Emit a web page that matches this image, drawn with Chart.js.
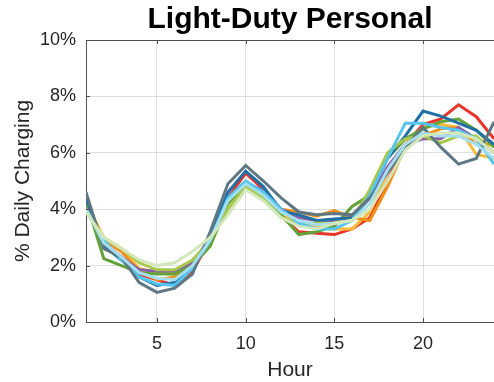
<!DOCTYPE html>
<html>
<head>
<meta charset="utf-8">
<script src="https://cdn.jsdelivr.net/npm/chart.js@4/dist/chart.umd.min.js"></script>
<style>
  html, body { margin: 0; padding: 0; background: #fff; }
  #wrap { width: 494px; height: 382px; }
</style>
</head>
<body>
<div id="wrap"><canvas id="chart" width="494" height="382"></canvas></div>
<script>
// hourly share of daily charging (%), one profile per run
const HOURS = Array.from({ length: 24 }, (_, i) => i + 1);
const X_TICKS = [5, 10, 15, 20];
const Y_TICKS = [0, 2, 4, 6, 8, 10];

const paleGreen   = [3.9, 3.0, 2.6, 2.2, 2.0, 2.1, 2.5, 3.0, 3.8, 4.7, 4.3, 3.7, 3.4, 3.3, 3.5, 3.6, 4.0, 5.0, 6.1, 6.6, 6.7, 6.7, 6.5, 6.0];
const lightCyan   = [4.0, 2.8, 2.3, 1.75, 1.55, 1.5, 2.0, 2.9, 4.3, 4.9, 4.5, 3.9, 3.6, 3.45, 3.5, 3.6, 4.2, 5.4, 6.3, 6.7, 6.6, 6.6, 6.3, 5.8];
const slate       = [4.6, 2.6, 2.3, 1.4, 1.05, 1.2, 1.7, 3.2, 4.9, 5.55, 5.0, 4.4, 3.9, 3.8, 3.85, 3.8, 4.4, 5.3, 6.2, 6.9, 6.2, 5.6, 5.8, 7.1];
const lightBlue   = [4.0, 2.9, 2.2, 1.6, 1.35, 1.3, 1.9, 2.9, 4.4, 5.0, 4.6, 4.0, 3.5, 3.3, 3.3, 3.6, 4.5, 5.8, 7.05, 7.05, 6.9, 6.8, 6.5, 5.6];
const yellowGreen = [4.0, 3.0, 2.6, 2.1, 1.85, 1.85, 2.2, 2.9, 4.0, 4.8, 4.4, 3.7, 3.5, 3.5, 3.5, 3.6, 4.7, 6.0, 6.5, 6.6, 6.35, 6.6, 6.6, 6.0];
const darkBlue    = [4.4, 2.7, 2.2, 1.6, 1.3, 1.4, 1.9, 3.0, 4.6, 5.35, 4.8, 3.95, 3.8, 3.6, 3.65, 3.7, 4.5, 5.8, 6.6, 7.48, 7.3, 7.05, 6.8, 6.3];
const green       = [4.3, 2.25, 2.0, 1.75, 1.7, 1.7, 2.0, 2.7, 4.2, 4.9, 4.4, 3.8, 3.1, 3.2, 3.4, 4.1, 4.5, 5.8, 6.5, 6.85, 7.1, 7.2, 6.8, 6.2];
const purple      = [4.1, 2.8, 2.3, 1.85, 1.8, 1.8, 2.1, 2.9, 4.4, 4.9, 4.7, 4.0, 3.7, 3.6, 3.6, 3.7, 4.4, 5.5, 6.3, 6.5, 6.5, 6.9, 6.5, 6.0];
const orange      = [4.3, 2.9, 2.5, 1.8, 1.5, 1.6, 2.0, 2.7, 4.3, 4.9, 4.6, 4.0, 3.9, 3.75, 3.95, 3.7, 3.6, 4.8, 6.2, 6.6, 6.85, 6.9, 6.3, 6.3];
const yellow      = [4.2, 3.0, 2.6, 1.9, 1.75, 1.7, 2.0, 2.8, 4.2, 4.8, 4.5, 3.8, 3.6, 3.4, 3.3, 3.3, 3.9, 5.3, 6.3, 6.9, 7.0, 6.9, 5.95, 5.8];
const red         = [4.2, 2.8, 2.3, 1.7, 1.5, 1.3, 1.8, 2.9, 4.4, 5.28, 4.7, 3.75, 3.2, 3.15, 3.1, 3.3, 3.7, 5.0, 6.3, 7.0, 7.2, 7.7, 7.28, 6.5];

const SERIES = [
  { data: paleGreen,   color: '#d2e8ba' },
  { data: lightCyan,   color: '#a3dff0' },
  { data: slate,       color: '#5f7783' },
  { data: lightBlue,   color: '#55c4ee' },
  { data: yellowGreen, color: '#a8c84a' },
  { data: darkBlue,    color: '#2070a5' },
  { data: green,       color: '#63a33a' },
  { data: purple,      color: '#8b5fa8' },
  { data: orange,      color: '#f39019' },
  { data: yellow,      color: '#f9bb38' },
  { data: red,         color: '#e8342a' }
];

const FONT = 'Liberation Sans, Arial, Helvetica, sans-serif';
const INK = '#262626';
const AXIS = '#4d4d4d';

// box outline on top plus inward tick marks
const boxPlugin = {
  id: 'box',
  afterDraw(chart) {
    const { ctx, chartArea: a, scales: { x, y } } = chart;
    ctx.save();
    ctx.strokeStyle = AXIS;
    ctx.lineWidth = 1;
    ctx.beginPath();
    ctx.moveTo(a.left, a.top + 0.5);
    ctx.lineTo(a.right, a.top + 0.5);
    X_TICKS.forEach(v => {
      const px = Math.round(x.getPixelForValue(v)) + 0.5;
      ctx.moveTo(px, a.bottom);
      ctx.lineTo(px, a.bottom - 4);
      ctx.moveTo(px, a.top);
      ctx.lineTo(px, a.top + 4);
    });
    Y_TICKS.forEach(v => {
      const py = Math.round(y.getPixelForValue(v)) + 0.5;
      ctx.moveTo(a.left, py);
      ctx.lineTo(a.left + 4, py);
    });
    ctx.stroke();
    ctx.restore();
  }
};

new Chart(document.getElementById('chart'), {
  type: 'line',
  data: {
    labels: HOURS,
    datasets: SERIES.map(s => ({
      data: s.data.map((v, i) => ({ x: HOURS[i], y: v })),
      borderColor: s.color,
      backgroundColor: s.color,
      borderWidth: 3,
      pointRadius: 0,
      tension: 0,
      fill: false
    }))
  },
  options: {
    responsive: false,
    animation: false,
    layout: { padding: { top: 0, right: 0, left: 0, bottom: 0 } },
    plugins: {
      legend: { display: false },
      tooltip: { enabled: false },
      title: {
        display: true,
        text: 'Light-Duty Personal',
        fullSize: false,
        color: '#000',
        font: { family: FONT, size: 30, weight: 'bold', lineHeight: 1.2 },
        padding: { top: 2, bottom: 2 }
      }
    },
    scales: {
      x: {
        type: 'linear',
        min: 1,
        max: 24,
        afterFit(scale) { scale.height = 60; },
        afterBuildTicks(scale) { scale.ticks = X_TICKS.map(v => ({ value: v })); },
        grid: { color: 'rgba(0,0,0,0.12)', drawTicks: false },
        border: { color: AXIS, width: 1 },
        ticks: {
          color: INK,
          padding: 11,
          font: { family: FONT, size: 18 },
          callback: v => String(v)
        },
        title: {
          display: true,
          text: 'Hour',
          color: INK,
          font: { family: FONT, size: 21, lineHeight: 1.15 },
          padding: { top: 0, bottom: 0 }
        }
      },
      y: {
        min: 0,
        max: 10,
        afterFit(scale) { scale.width = 86; },
        afterBuildTicks(scale) { scale.ticks = Y_TICKS.map(v => ({ value: v })); },
        grid: { color: 'rgba(0,0,0,0.12)', drawTicks: false },
        border: { color: AXIS, width: 1 },
        ticks: {
          color: INK,
          padding: 10,
          font: { family: FONT, size: 18 },
          callback: v => v + '%'
        },
        title: {
          display: true,
          text: '% Daily Charging',
          color: INK,
          font: { family: FONT, size: 21, lineHeight: 1.15 },
          padding: { top: 11, bottom: 0 }
        }
      }
    }
  },
  plugins: [boxPlugin]
});
</script>
</body>
</html>
